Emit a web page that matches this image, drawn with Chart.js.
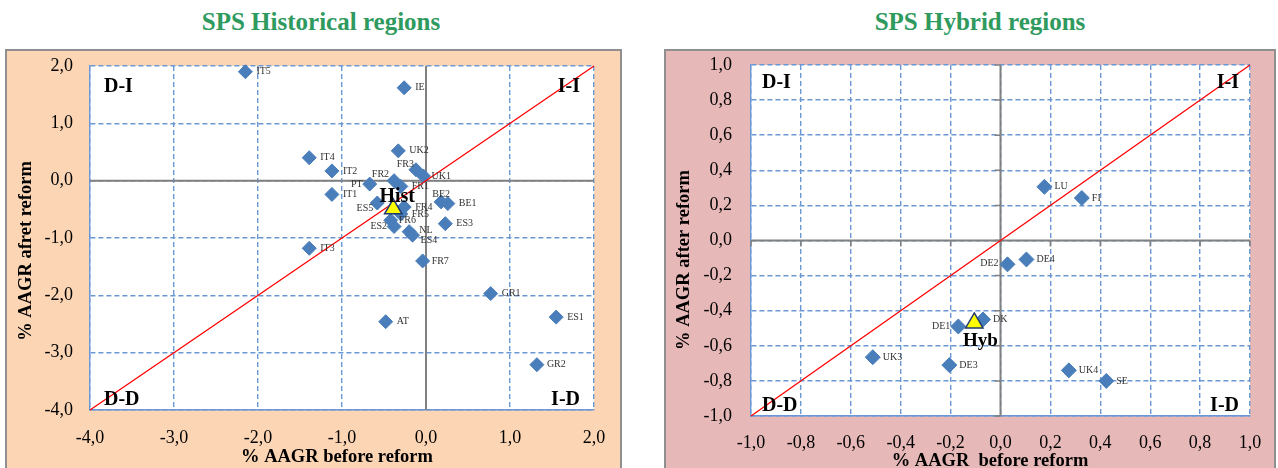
<!DOCTYPE html>
<html lang="en">
<head>
  <meta charset="UTF-8" />
  <title>SPS regions</title>
  <script src="https://cdn.jsdelivr.net/npm/chart.js"></script>
  <style>
    body { margin: 0; width: 1278px; height: 468px; overflow: hidden; background: #fff; position: relative; }
    .title {
      position: absolute; top: 8px; width: 400px; text-align: center;
      font-family: "Liberation Serif", serif; font-weight: bold; font-size: 25px; color: #2f9a5e;
    }
    .box { position: absolute; top: 49px; border: 2px solid #8f8f8f; }
    .box canvas { display: block; }
  </style>
</head>
<body>
  <div class="title" style="left:121px">SPS Historical regions</div>
  <div class="title" style="left:780px">SPS Hybrid regions</div>

  <div class="box" style="left:5px; background:#fcd5b5; width:613px; height:420px">
    <canvas id="histChart" width="613" height="420"></canvas>
  </div>
  <div class="box" style="left:664px; background:#e6b9b8; width:608px; height:420px">
    <canvas id="hybChart" width="608" height="420"></canvas>
  </div>

  <script>
    // SPS Historical regions
    const histNames  = ['IT5', 'IE', 'UK2', 'IT4', 'IT2', 'FR3', 'UK1', 'PT', 'FR2', 'FR1', 'IT1', 'ES5', 'FR4', 'FR5', 'BE2', 'BE1', 'FR6', 'ES2', 'NL', 'ES4', 'ES3', 'IT3', 'FR7', 'GR1', 'AT', 'ES1', 'GR2'];
    const histBefore = [-2.15, -0.26, -0.33, -1.39, -1.12, -0.12, -0.03, -0.67, -0.38, -0.30, -1.12, -0.58, -0.26, -0.30, 0.18, 0.26, -0.42, -0.38, -0.20, -0.16, 0.23, -1.39, -0.04, 0.77, -0.48, 1.55, 1.32];
    const histAfter  = [1.90, 1.62, 0.52, 0.40, 0.17, 0.19, 0.08, -0.06, 0.00, -0.10, -0.24, -0.39, -0.46, -0.58, -0.37, -0.40, -0.69, -0.80, -0.89, -0.95, -0.75, -1.18, -1.40, -1.97, -2.46, -2.38, -3.21];
    const histAvg    = [-0.39, -0.49];

    // SPS Hybrid regions
    const hybNames  = ['LU', 'FI', 'DE2', 'DE4', 'DK', 'DE1', 'UK3', 'DE3', 'UK4', 'SE'];
    const hybBefore = [0.176, 0.326, 0.028, 0.104, -0.07, -0.169, -0.512, -0.205, 0.274, 0.424];
    const hybAfter  = [0.306, 0.242, -0.136, -0.108, -0.45, -0.49, -0.665, -0.71, -0.74, -0.80];
    const hybAvg    = [-0.105, -0.47];

    // where each point label sits: [dx, dy, align]
    const histLabelPos = {
      PT: [-7, 0, 'right'], FR2: [-5, -6, 'right'], FR3: [-2, -5, 'right'], UK1: [8, 0, 'left'],
      ES5: [-4, 5, 'right'], ES2: [-7, 0, 'right'], BE2: [0, -8, 'center'], FR6: [8, 0, 'left'],
      ES4: [8, 5, 'left'], NL: [10, -1, 'left'], FR7: [9, 0, 'left'], GR2: [10, 0, 'left']
    };
    const hybLabelPos = { DE2: [-9, -1, 'right'], DE1: [-8, 0, 'right'] };

    const serif = '"Liberation Serif", "Times New Roman", serif';
    const gridColor = '#6a98d4';
    const fmt = v => v.toFixed(1).replace('.', ',');

    const chartPlugin = {
      id: 'decor',
      beforeDraw(chart) {
        const { ctx, chartArea: a } = chart;
        ctx.save();
        ctx.fillStyle = '#fff';
        ctx.fillRect(a.left, a.top, a.right - a.left, a.bottom - a.top);
        ctx.restore();
      },
      beforeDatasetsDraw(chart, args, o) {
        const { ctx, chartArea: a, scales: { x, y } } = chart;
        const x0 = x.getPixelForValue(0), y0 = y.getPixelForValue(0);
        ctx.save();
        ctx.strokeStyle = '#808080';
        ctx.lineWidth = 2;
        ctx.beginPath();
        ctx.moveTo(a.left, y0); ctx.lineTo(a.right, y0);
        ctx.moveTo(x0, a.top); ctx.lineTo(x0, a.bottom);
        ctx.stroke();
        if (o.axisTicks) {
          ctx.lineWidth = 1.5;
          ctx.beginPath();
          x.ticks.forEach(t => { const px = x.getPixelForValue(t.value); ctx.moveTo(px, y0); ctx.lineTo(px, y0 + 6); });
          y.ticks.forEach(t => { const py = y.getPixelForValue(t.value); ctx.moveTo(x0, py); ctx.lineTo(x0 - 6, py); });
          ctx.stroke();
        }
        ctx.restore();
      },
      afterDatasetsDraw(chart, args, o) {
        const { ctx, chartArea: a } = chart;
        ctx.save();
        // point labels
        const ds = chart.data.datasets[0];
        const meta = chart.getDatasetMeta(0);
        ctx.font = '10px ' + serif;
        ctx.fillStyle = '#333';
        ctx.textBaseline = 'middle';
        meta.data.forEach((pt, i) => {
          const name = ds.names[i];
          const [dx, dy, al] = o.labelPos[name] || o.defaultPos;
          ctx.textAlign = al;
          ctx.fillText(name, pt.x + dx, pt.y + dy);
        });
        // average label
        const tri = chart.getDatasetMeta(2).data[0];
        ctx.font = 'bold ' + o.avgSize + 'px ' + serif;
        ctx.fillStyle = '#000';
        ctx.textAlign = 'center';
        ctx.fillText(o.avgLabel, tri.x + o.avgOffset[0], tri.y + o.avgOffset[1]);
        // quadrant labels
        ctx.font = 'bold 20px ' + serif;
        ctx.textAlign = 'left';
        ctx.fillText('D-I', a.left + o.q[0], a.top + o.q[1]);
        ctx.fillText('D-D', a.left + o.q[0], a.bottom - o.q[2]);
        ctx.textAlign = 'right';
        ctx.fillText('I-I', a.right - o.q[3], a.top + o.q[1]);
        ctx.fillText('I-D', a.right - o.q[3], a.bottom - o.q[2]);
        // axis titles
        ctx.font = 'bold 18.5px ' + serif;
        ctx.textAlign = 'center';
        ctx.fillText(o.xTitle, o.xTitlePos[0], o.xTitlePos[1]);
        ctx.translate(o.yTitlePos[0], o.yTitlePos[1]);
        ctx.rotate(-Math.PI / 2);
        ctx.fillText(o.yTitle, 0, 0);
        ctx.restore();
      }
    };

    function makeChart(id, cfg) {
      const points = cfg.before.map((b, i) => ({ x: b, y: cfg.after[i] }));
      const axis = (min, max, step, pad, size) => ({
        type: 'linear', min, max,
        ticks: { stepSize: step, callback: fmt, color: '#000', padding: pad, font: { family: serif, size: 18 } },
        grid: { color: gridColor, lineWidth: 1.4, drawTicks: false },
        border: { display: true, color: gridColor, width: 1.4, dash: [5, 3] },
        afterFit: s => {
          // fixed axis sizes so the plot area lands where the original has it
          if (s.isHorizontal()) { s.height = size; s.paddingLeft = 0; s.paddingRight = 0; }
          else { s.width = size; s.paddingTop = 0; s.paddingBottom = 0; }
        }
      });
      return new Chart(document.getElementById(id), {
        type: 'scatter',
        data: {
          datasets: [
            {
              data: points, names: cfg.names, order: 2,
              pointStyle: 'rectRot', pointRadius: cfg.diamond, pointHoverRadius: cfg.diamond,
              backgroundColor: '#4a7ebb', borderColor: '#4a7ebb', borderWidth: 1
            },
            {
              data: [{ x: cfg.min[0], y: cfg.min[0] }, { x: cfg.max[0], y: cfg.max[0] }],
              showLine: true, order: 1, borderColor: '#ff0000', borderWidth: 1.3, pointRadius: 0
            },
            {
              data: [{ x: cfg.avg[0], y: cfg.avg[1] }], order: 0,
              pointStyle: 'triangle', pointRadius: 10, pointHoverRadius: 10,
              backgroundColor: '#ffff00', borderColor: '#1f3a6e', borderWidth: 1.5
            }
          ]
        },
        options: {
          responsive: false, animation: false, clip: false,
          layout: { padding: { top: cfg.pad[0], right: cfg.pad[1], left: 0, bottom: 0 } },
          plugins: {
            legend: { display: false }, tooltip: { enabled: false },
            decor: cfg.decor
          },
          scales: {
            x: axis(cfg.min[0], cfg.max[0], cfg.step[0], cfg.tickPad[0], cfg.axisSize[0]),
            y: axis(cfg.min[1], cfg.max[1], cfg.step[1], cfg.tickPad[1], cfg.axisSize[1])
          }
        },
        plugins: [chartPlugin]
      });
    }

    makeChart('histChart', {
      names: histNames, before: histBefore, after: histAfter, avg: histAvg,
      min: [-4, -4], max: [2, 2], step: [1, 1], diamond: 7,
      pad: [15, 26], axisSize: [61, 83], tickPad: [17, 17],
      decor: {
        labelPos: histLabelPos, defaultPos: [11, 0, 'left'],
        avgLabel: 'Hist', avgSize: 20, avgOffset: [4, -12],
        q: [14, 21, 10, 14], axisTicks: false,
        xTitle: '% AAGR before reform', xTitlePos: [330, 406],
        yTitle: '% AAGR afret reform', yTitlePos: [19, 200]
      }
    });

    makeChart('hybChart', {
      names: hybNames, before: hybBefore, after: hybAfter, avg: hybAvg,
      min: [-1, -1], max: [1, 1], step: [0.2, 0.2], diamond: 7.5,
      pad: [14, 24], axisSize: [55, 85], tickPad: [16, 19],
      decor: {
        labelPos: hybLabelPos, defaultPos: [10, 0, 'left'],
        avgLabel: 'Hyb', avgSize: 19, avgOffset: [6, 18],
        q: [11, 18, 10, 11], axisTicks: true,
        xTitle: '% AAGR  before reform', xTitlePos: [324, 410],
        yTitle: '% AAGR after reform', yTitlePos: [18, 209]
      }
    });
  </script>
</body>
</html>
